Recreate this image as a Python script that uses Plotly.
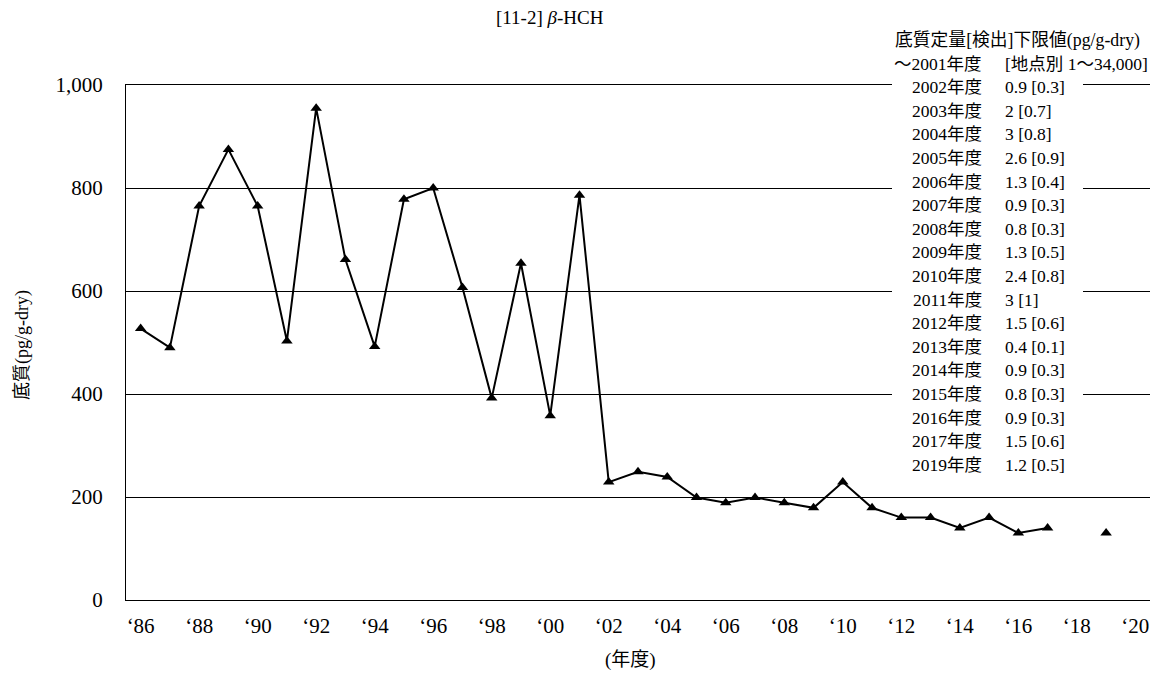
import plotly.graph_objects as go

# ---- data ----
years = list(range(1986, 2021))
values = [527, 490, 765, 875, 765, 503, 955, 661, 492, 778, 800, 607,
          392, 654, 358, 786, 229, 249, 239, 199, 189, 199, 189, 179,
          229, 179, 160, 160, 140, 160, 130, 140, None, 130, None]
tick_years = list(range(1986, 2021, 2))
tick_labels = ["\u2018" + str(y)[2:] for y in tick_years]
y_ticks = [0, 200, 400, 600, 800, 1000]
y_tick_labels = ["0", "200", "400", "600", "800", "1,000"]

legend_header = "底質定量[検出]下限値(pg/g-dry)"
legend_first_year = "～2001年度"
legend_first_value = "[地点別 1～34,000]"
legend_years = ["2002年度", "2003年度", "2004年度", "2005年度", "2006年度", "2007年度",
                "2008年度", "2009年度", "2010年度", "2011年度", "2012年度", "2013年度",
                "2014年度", "2015年度", "2016年度", "2017年度", "2019年度"]
legend_values = ["0.9 [0.3]", "2 [0.7]", "3 [0.8]", "2.6 [0.9]", "1.3 [0.4]", "0.9 [0.3]",
                 "0.8 [0.3]", "1.3 [0.5]", "2.4 [0.8]", "3 [1]", "1.5 [0.6]", "0.4 [0.1]",
                 "0.9 [0.3]", "0.8 [0.3]", "0.9 [0.3]", "1.5 [0.6]", "1.2 [0.5]"]

# ---- layout geometry (page pixels; the page body has an 8px margin) ----
OFF = 8
W, H = 1160, 671
PLOT_L, PLOT_R, PLOT_T, PLOT_B = 126, 1150, 85, 600  # page coords
L = PLOT_L - OFF
T = PLOT_T - OFF
R = W - (PLOT_R - OFF)
B = H - (PLOT_B - OFF)
PW, PH = PLOT_R - PLOT_L, PLOT_B - PLOT_T


def px(x):
    return (x - PLOT_L) / PW


def py(y):
    return (PLOT_B - y) / PH


FONT = "Liberation Serif, 'Times New Roman', 'Noto Sans CJK JP', serif"

fig = go.Figure()
fig.add_trace(go.Scatter(
    x=[str(y) for y in years], y=values,
    mode="lines+markers",
    line=dict(color="black", width=2),
    marker=dict(symbol="triangle-up", size=10, color="black"),
    connectgaps=False,
    showlegend=False,
))

LEG = 17.5
annotations = []
row_y0, row_step = 40, 23.6
annotations.append(dict(x=px(893), y=py(row_y0), xref="paper", yref="paper",
                        text=legend_header, showarrow=False, xanchor="left",
                        yanchor="middle", font=dict(size=17.8, family=FONT, color="black")))
annotations.append(dict(x=px(984), y=py(row_y0 + row_step), xref="paper", yref="paper",
                        text=legend_first_year, showarrow=False, xanchor="right",
                        yanchor="middle", font=dict(size=LEG, family=FONT, color="black")))
annotations.append(dict(x=px(1003), y=py(row_y0 + row_step), xref="paper", yref="paper",
                        text=legend_first_value, showarrow=False, xanchor="left",
                        yanchor="middle", font=dict(size=LEG, family=FONT, color="black")))
for i, (yr, val) in enumerate(zip(legend_years, legend_values)):
    yy = row_y0 + (i + 2) * row_step
    annotations.append(dict(x=px(984), y=py(yy), xref="paper", yref="paper",
                            text=yr, showarrow=False, xanchor="right", yanchor="middle",
                            font=dict(size=LEG, family=FONT, color="black")))
    annotations.append(dict(x=px(1003), y=py(yy), xref="paper", yref="paper",
                            text=val, showarrow=False, xanchor="left", yanchor="middle",
                            font=dict(size=LEG, family=FONT, color="black")))

# axis titles
annotations.append(dict(x=px(630), y=py(660), xref="paper", yref="paper",
                        text="(年度)", showarrow=False, xanchor="center", yanchor="middle",
                        font=dict(size=19, family=FONT, color="black")))
annotations.append(dict(x=px(22), y=py(345), xref="paper", yref="paper",
                        text="底質(pg/g-dry)", showarrow=False, textangle=-90,
                        xanchor="center", yanchor="middle",
                        font=dict(size=18, family=FONT, color="black")))
# chart title
annotations.append(dict(x=px(550), y=py(17), xref="paper", yref="paper",
                        text="[11-2] <i>β</i>-HCH", showarrow=False,
                        xanchor="center", yanchor="middle",
                        font=dict(size=19, family=FONT, color="black")))

fig.update_layout(
    width=W, height=H,
    margin=dict(l=L, r=R, t=T, b=B),
    paper_bgcolor="white", plot_bgcolor="white",
    annotations=annotations,
    shapes=[dict(type="rect", xref="paper", yref="paper",
                 x0=px(892), x1=px(1083), y0=py(478), y1=py(75),
                 fillcolor="white", line=dict(width=0), layer="above")],
    xaxis=dict(
        type="category",
        categoryorder="array", categoryarray=[str(y) for y in years],
        range=[-0.5, len(years) - 0.5], autorange=False,
        tickmode="array", tickvals=[str(y) for y in tick_years], ticktext=tick_labels,
        showgrid=False, showline=True, mirror=True, linecolor="black", linewidth=1,
        ticks="", ticklabelstandoff=7,
        tickfont=dict(size=21, family=FONT, color="black"),
        zeroline=False, fixedrange=True,
    ),
    yaxis=dict(
        range=[0, 1000], autorange=False,
        tickmode="array", tickvals=y_ticks, ticktext=y_tick_labels,
        showgrid=True, gridcolor="black", gridwidth=1,
        showline=True, linecolor="black", linewidth=1,
        ticks="", ticklabelstandoff=18,
        tickfont=dict(size=21, family=FONT, color="black"),
        zeroline=False, fixedrange=True,
    ),
)

fig.write_html("out.html")
